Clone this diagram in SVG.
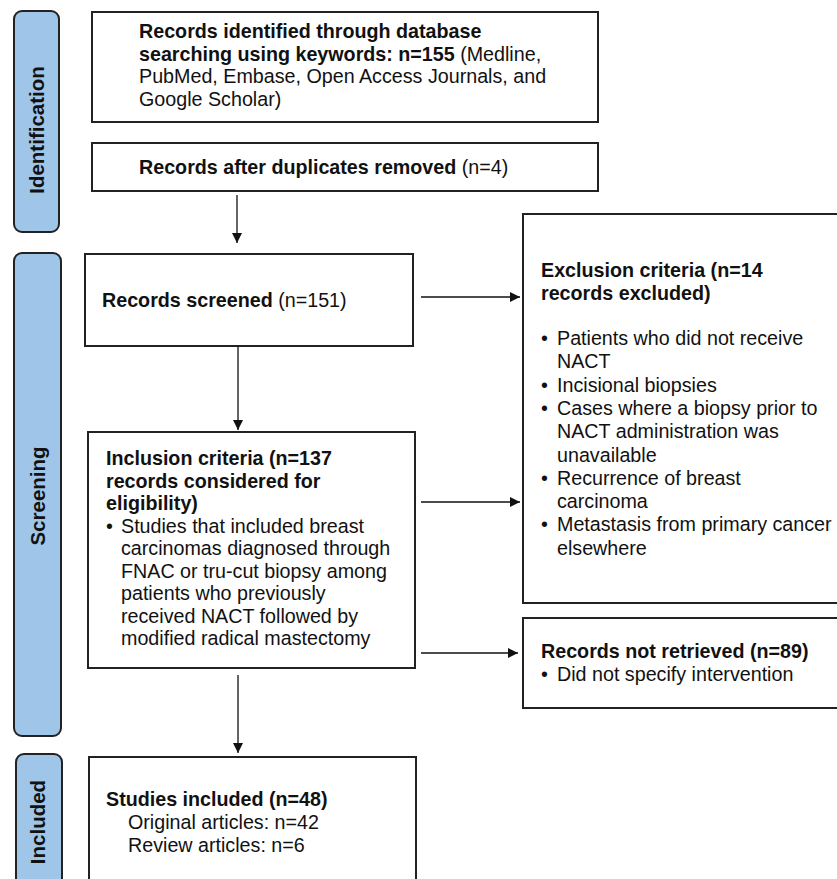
<svg xmlns="http://www.w3.org/2000/svg" width="837" height="879" viewBox="0 0 837 879">
<style>
text{font-family:"Liberation Sans",Arial,sans-serif;font-size:19.7px;fill:#111}
.b{font-weight:bold}
.box{fill:#fff;stroke:#222;stroke-width:2}
.side{fill:#9fc5e8;stroke:#222;stroke-width:2}
.lab{font-weight:bold;font-size:20.5px}
.con{stroke:#111;stroke-width:1.3;fill:none;marker-end:url(#ah)}
</style>
<defs>
<marker id="ah" viewBox="0 0 10 10" refX="10" refY="5" markerWidth="10" markerHeight="10" markerUnits="userSpaceOnUse" orient="auto">
<path d="M0,0 L10,5 L0,10 z" fill="#111"/>
</marker>
</defs>
<rect width="837" height="879" fill="#fff"/>
<g id="side-identification">
<rect class="side" x="14" y="11" width="45" height="221" rx="8"/>
<text class="lab" transform="translate(44,130) rotate(-90)" text-anchor="middle">Identification</text>
</g>
<g id="side-screening">
<rect class="side" x="14" y="253" width="47" height="483" rx="8"/>
<text class="lab" transform="translate(45,496) rotate(-90)" text-anchor="middle">Screening</text>
</g>
<g id="side-included">
<rect class="side" x="16" y="754" width="46" height="140" rx="8"/>
<text class="lab" transform="translate(45,822) rotate(-90)" text-anchor="middle">Included</text>
</g>
<g id="n-identified">
<rect class="box" x="92" y="12" width="506" height="110"/>
<text x="139" y="38"><tspan class="b">Records identified through database</tspan><tspan x="139" dy="22.5" class="b">searching using keywords: n=155</tspan><tspan> (Medline,</tspan><tspan x="139" dy="22.5">PubMed, Embase, Open Access Journals, and</tspan><tspan x="139" dy="22.5">Google Scholar)</tspan></text>
</g>
<g id="n-duplicates">
<rect class="box" x="92" y="143" width="506" height="48"/>
<text x="139" y="174"><tspan class="b">Records after duplicates removed</tspan> (n=4)</text>
</g>
<g id="n-screened">
<rect class="box" x="85" y="254" width="328" height="92"/>
<text x="102" y="307"><tspan class="b">Records screened</tspan> (n=151)</text>
</g>
<g id="n-inclusion">
<rect class="box" x="88" y="432" width="327" height="236"/>
<text x="106" y="465"><tspan class="b">Inclusion criteria (n=137</tspan><tspan x="106" dy="22.5" class="b">records considered for</tspan><tspan x="106" dy="22.5" class="b">eligibility)</tspan><tspan x="106" dy="22.5">•</tspan><tspan x="121">Studies that included breast</tspan><tspan x="121" dy="22.5">carcinomas diagnosed through</tspan><tspan x="121" dy="22.5">FNAC or tru-cut biopsy among</tspan><tspan x="121" dy="22.5">patients who previously</tspan><tspan x="121" dy="22.5">received NACT followed by</tspan><tspan x="121" dy="22.5">modified radical mastectomy</tspan></text>
</g>
<g id="n-exclusion">
<rect class="box" x="523" y="214" width="320" height="389"/>
<text x="541" y="277"><tspan class="b">Exclusion criteria (n=14</tspan><tspan x="541" dy="22.5" class="b">records excluded)</tspan><tspan x="541" y="345">•</tspan><tspan x="557">Patients who did not receive</tspan><tspan x="557" dy="23.3">NACT</tspan><tspan x="541" dy="23.3">•</tspan><tspan x="557">Incisional biopsies</tspan><tspan x="541" dy="23.3">•</tspan><tspan x="557">Cases where a biopsy prior to</tspan><tspan x="557" dy="23.3">NACT administration was</tspan><tspan x="557" dy="23.3">unavailable</tspan><tspan x="541" dy="23.3">•</tspan><tspan x="557">Recurrence of breast</tspan><tspan x="557" dy="23.3">carcinoma</tspan><tspan x="541" dy="23.3">•</tspan><tspan x="557">Metastasis from primary cancer</tspan><tspan x="557" dy="23.3">elsewhere</tspan></text>
</g>
<g id="n-notretrieved">
<rect class="box" x="523" y="618" width="320" height="90"/>
<text x="541" y="658"><tspan class="b">Records not retrieved (n=89)</tspan><tspan x="541" dy="23">•</tspan><tspan x="557">Did not specify intervention</tspan></text>
</g>
<g id="n-included">
<rect class="box" x="89" y="757" width="327" height="140"/>
<text x="106" y="806"><tspan class="b">Studies included (n=48)</tspan><tspan x="128" dy="23">Original articles: n=42</tspan><tspan x="128" dy="23">Review articles: n=6</tspan></text>
</g>
<g id="connectors">
<line class="con" x1="237" y1="195" x2="237" y2="243"/>
<line class="con" x1="238" y1="346" x2="238" y2="430"/>
<line class="con" x1="238" y1="675" x2="238" y2="753"/>
<line class="con" x1="421" y1="297" x2="520" y2="297"/>
<line class="con" x1="421" y1="502" x2="520" y2="502"/>
<line class="con" x1="421" y1="653" x2="518" y2="653"/>
</g>
</svg>
